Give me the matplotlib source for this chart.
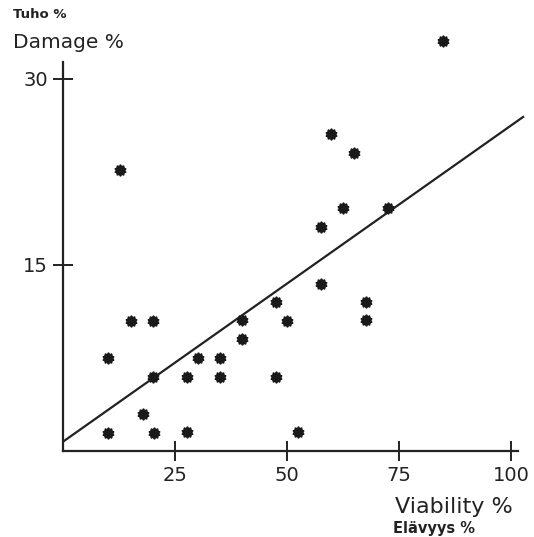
import numpy as np
from matplotlib import pyplot as plt

# viability % and damage %
viability = [10.0, 10.0, 12.7, 15.2, 17.9, 20.1, 20.1, 20.3, 27.7, 27.7,
             30.1, 35.0, 35.0, 40.0, 40.0, 47.5, 47.5, 50.0, 52.5, 57.6,
             57.6, 59.8, 62.5, 65.0, 67.6, 67.6, 72.5, 84.8]
damage = [7.5, 1.45, 22.7, 10.5, 3.0, 10.5, 6.0, 1.45, 6.0, 1.5,
          7.5, 7.5, 6.0, 9.0, 10.6, 12.0, 6.0, 10.5, 1.5, 18.1,
          13.5, 25.6, 19.6, 24.0, 12.0, 10.6, 19.6, 33.1]

# fitted line as drawn
intercept = 0.75
slope = 0.255
line_x = [0.2, 102.7]

xticks = [25, 50, 75, 100]
yticks = [15, 30]

W, H = 534, 537
fig = plt.figure(figsize=(W/100, H/100), dpi=100)
x0, x1 = 63, 518
y0, y1 = 451, 62
ax = fig.add_axes([x0/W, 1 - y0/H, (x1 - x0)/W, (y0 - y1)/H])
ax.set_xlim(0, (x1 - x0)/4.48)
ax.set_ylim(0, (y0 - y1)/12.4)

lx = np.array(line_x)
ax.plot(lx, intercept + slope*lx, color="#222222", lw=1.6, clip_on=False)
ax.plot(viability, damage, linestyle="none", marker="o", markersize=6.5,
        color="#1a1a1a", clip_on=False)
ax.plot(viability, damage, linestyle="none", marker=(10, 1, 0), markersize=8.5,
        color="#1a1a1a", clip_on=False)

for s in ["top", "right"]:
    ax.spines[s].set_visible(False)
for s in ["left", "bottom"]:
    ax.spines[s].set_linewidth(1.6)
    ax.spines[s].set_color("#222222")

ax.set_xticks(xticks)
ax.set_yticks(yticks)
ax.tick_params(direction="inout", length=14, width=1.4, color="#222222",
               labelsize=14, labelcolor="#222222", pad=4)

fig.text(13/W, 1 - 14/H, "Tuho %", fontsize=9.5, fontweight="bold",
         va="center", ha="left", color="#222222")
fig.text(13/W, 1 - 43/H, "Damage %", fontsize=14.5, va="center", ha="left",
         color="#222222")
fig.text(395/W, 1 - 507/H, "Viability %", fontsize=16, va="center", ha="left",
         color="#222222")
fig.text(393/W, 1 - 528/H, "Elävyys %", fontsize=10.5, fontweight="bold",
         va="center", ha="left", color="#222222")

fig.savefig("out.png", dpi=100)
